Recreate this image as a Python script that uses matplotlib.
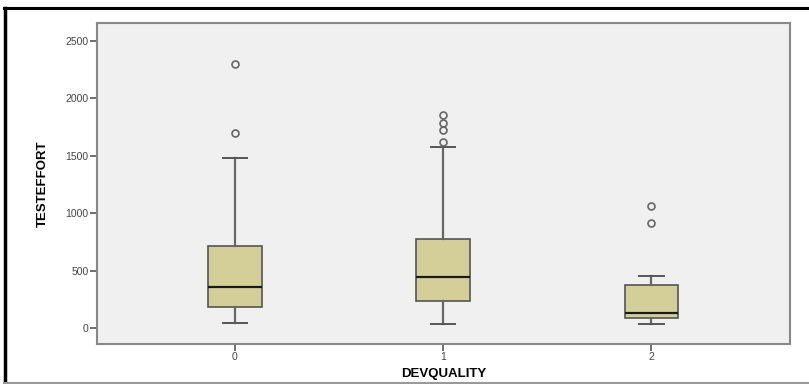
import matplotlib
matplotlib.use("Agg")
import matplotlib.pyplot as plt
from matplotlib.lines import Line2D

# box plot summary
groups = ["0", "1", "2"]
q1 = [183, 235, 87]
medians = [357, 443, 130]
q3 = [713, 774, 374]
whis_lo = [43, 35, 35]
whis_hi = [1478, 1574, 452]
outliers = [[1696, 2296], [1617, 1722, 1783, 1852], [913, 1061]]
yticks = [0, 500, 1000, 1500, 2000, 2500]

stats = []
for i, g in enumerate(groups):
    stats.append(dict(label=g, q1=q1[i], med=medians[i], q3=q3[i],
                      whislo=whis_lo[i], whishi=whis_hi[i], fliers=outliers[i]))

fig = plt.figure(figsize=(8.09, 3.84), dpi=100)
ax = fig.add_axes([0.120, 0.104, 0.8565, 0.836])
ax.set_facecolor("#f0f0f0")

ax.bxp(stats, positions=range(len(groups)), widths=0.255, patch_artist=True,
       capwidths=0.12,
       boxprops=dict(facecolor="#d4cf98", edgecolor="#555555", linewidth=1.2),
       medianprops=dict(color="#1a1a1a", linewidth=1.6),
       whiskerprops=dict(color="#666666", linewidth=1.6),
       capprops=dict(color="#555555", linewidth=1.4),
       flierprops=dict(marker="o", markersize=5, markerfacecolor="none",
                       markeredgecolor="#666666", markeredgewidth=1.2))

ax.set_xlim(-0.663, 2.668)
ax.set_ylim(-139, 2652)
ax.set_yticks(yticks)
ax.set_xticks(range(len(groups)))
ax.set_xticklabels(groups)

for s in ax.spines.values():
    s.set_color("#888888")
    s.set_linewidth(1.5)
ax.tick_params(axis="both", colors="#555555", labelsize=7.5, length=5, width=1.2, pad=1)
for lab in ax.get_xticklabels() + ax.get_yticklabels():
    lab.set_family("Liberation Sans")
    lab.set_color("#444444")

ax.set_ylabel("TESTEFFORT", fontsize=9.5, fontweight="bold",
              family="Liberation Sans", labelpad=12)
ax.set_xlabel("DEVQUALITY", fontsize=9.5, fontweight="bold",
              family="Liberation Sans", labelpad=4)

# outer frame of the screenshot
fig.add_artist(Line2D([0.005, 1.0], [0.979, 0.979], color="black", linewidth=2.2,
                      transform=fig.transFigure))
fig.add_artist(Line2D([0.006, 0.006], [0.0, 0.979], color="black", linewidth=2.5,
                      transform=fig.transFigure))
fig.add_artist(Line2D([0.005, 1.0], [0.003, 0.003], color="#999999", linewidth=1.5,
                      transform=fig.transFigure))

fig.savefig("out.png", dpi=100)
